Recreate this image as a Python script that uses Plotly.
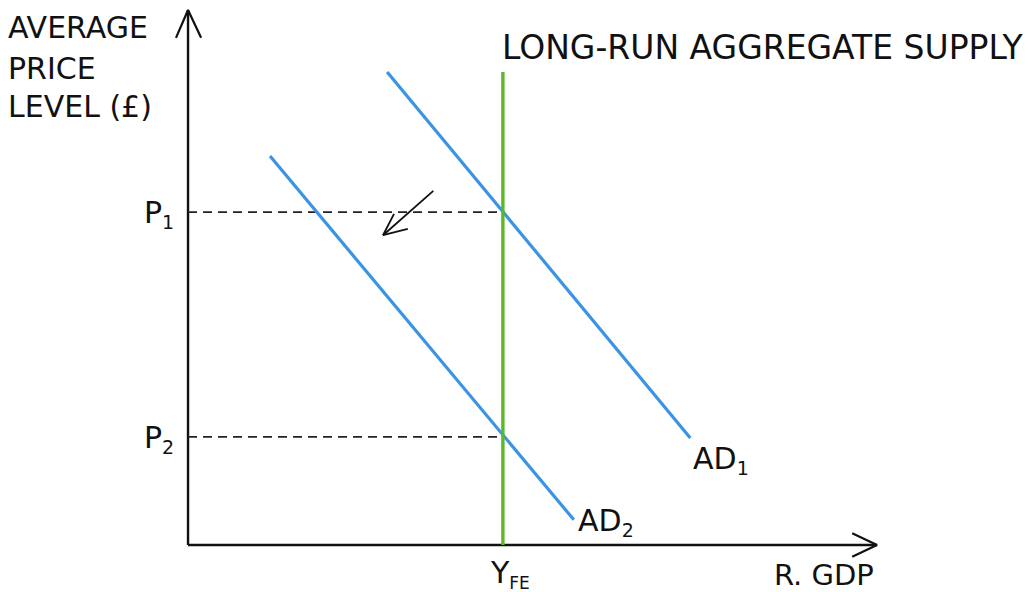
import plotly.graph_objects as go

# ---- conceptual data (axis units: 0..100 on each axis) ----
Y_FE = 45.7           # full-employment output (LRAS position)
LRAS_TOP = 88.4
P1 = 62.2             # initial price level
P2 = 20.2             # new price level
AD1_x = [28.9, 72.9]
AD1_y = [88.4, 20.0]
AD2_x = [11.9, 56.0]
AD2_y = [72.7, 4.7]
SHIFT_x = [35.6, 28.3]   # arrow showing AD shifting left
SHIFT_y = [66.2, 57.9]
AXIS_MAX_X = 100
AXIS_MAX_Y = 100

BLUE = "#3b93e5"
GREEN = "#5cb82a"
BLACK = "#111111"
FONT = "DejaVu Sans"

fig = go.Figure()

def line(xs, ys, color, width, dash="solid"):
    fig.add_trace(go.Scatter(x=xs, y=ys, mode="lines",
                             line=dict(color=color, width=width, dash=dash),
                             hoverinfo="skip", showlegend=False))

# axes
line([0, 0], [0, AXIS_MAX_Y], BLACK, 2.4)
line([-1.75, 0, 1.9], [AXIS_MAX_Y - 5.2, AXIS_MAX_Y, AXIS_MAX_Y - 5.2], BLACK, 2.2)
line([0, AXIS_MAX_X], [0, 0], BLACK, 2.4)
line([AXIS_MAX_X - 3.6, AXIS_MAX_X, AXIS_MAX_X - 3.6], [2.2, 0, -2.2], BLACK, 2.2)

# dashed price lines
line([0, Y_FE], [P1, P1], "#222222", 1.8, "9px,6px")
line([0, Y_FE], [P2, P2], "#222222", 1.8, "9px,6px")

# AD curves
line(AD1_x, AD1_y, BLUE, 3.2)
line(AD2_x, AD2_y, BLUE, 3.2)

# LRAS
line([Y_FE, Y_FE], [0, LRAS_TOP], GREEN, 3.4)

# shift arrow
line(SHIFT_x, SHIFT_y, BLACK, 1.8)
tx, ty = SHIFT_x[1], SHIFT_y[1]
line([tx + 3.6, tx, tx + 1.6], [ty + 1.2, ty, ty + 4.0], BLACK, 1.8)

ann = []
def label(text, x, y, size=30, xanchor="left", yanchor="middle", xshift=0, yshift=0):
    ann.append(dict(text=text, x=x, y=y, xref="x", yref="y",
                    showarrow=False, xanchor=xanchor, yanchor=yanchor,
                    xshift=xshift, yshift=yshift,
                    font=dict(family=FONT, size=size, color=BLACK)))

def sub(s, size=19):
    return f"<sub><span style='font-size:{size}px'>{s}</span></sub>"

label("AVERAGE", 0, AXIS_MAX_Y, xshift=-182, yshift=-17)
label("PRICE", 0, AXIS_MAX_Y, xshift=-182, yshift=-58)
label("LEVEL (£)", 0, AXIS_MAX_Y, xshift=-182, yshift=-96)

label("LONG-RUN AGGREGATE SUPPLY", Y_FE, LRAS_TOP, size=33, xshift=-3, yshift=25)
label("P" + sub("1"), 0, P1, xanchor="right", xshift=-12, yshift=-2)
label("P" + sub("2"), 0, P2, xanchor="right", xshift=-12, yshift=-2)
label("AD" + sub("1"), AD1_x[1], AD1_y[1], xshift=1, yshift=-22)
label("AD" + sub("2"), AD2_x[1], AD2_y[1], xshift=2, yshift=-2)
label("Y" + sub("FE", 17), Y_FE, 0, xanchor="center", yshift=-29, xshift=7)
label("R. GDP", AXIS_MAX_X, 0, xanchor="right", yshift=-30, xshift=-1, size=29)

fig.update_layout(
    width=1035, height=592,
    margin=dict(l=0, r=0, t=0, b=0),
    paper_bgcolor="white", plot_bgcolor="white",
    xaxis=dict(range=[-27.29, 122.93], visible=False, fixedrange=True),
    yaxis=dict(range=[-8.79, 101.87], visible=False, fixedrange=True),
    annotations=ann,
    showlegend=False,
)

fig.write_html("out.html",
               config={"displayModeBar": False},
               post_script="document.body.style.margin='0';document.body.style.overflow='hidden';")
